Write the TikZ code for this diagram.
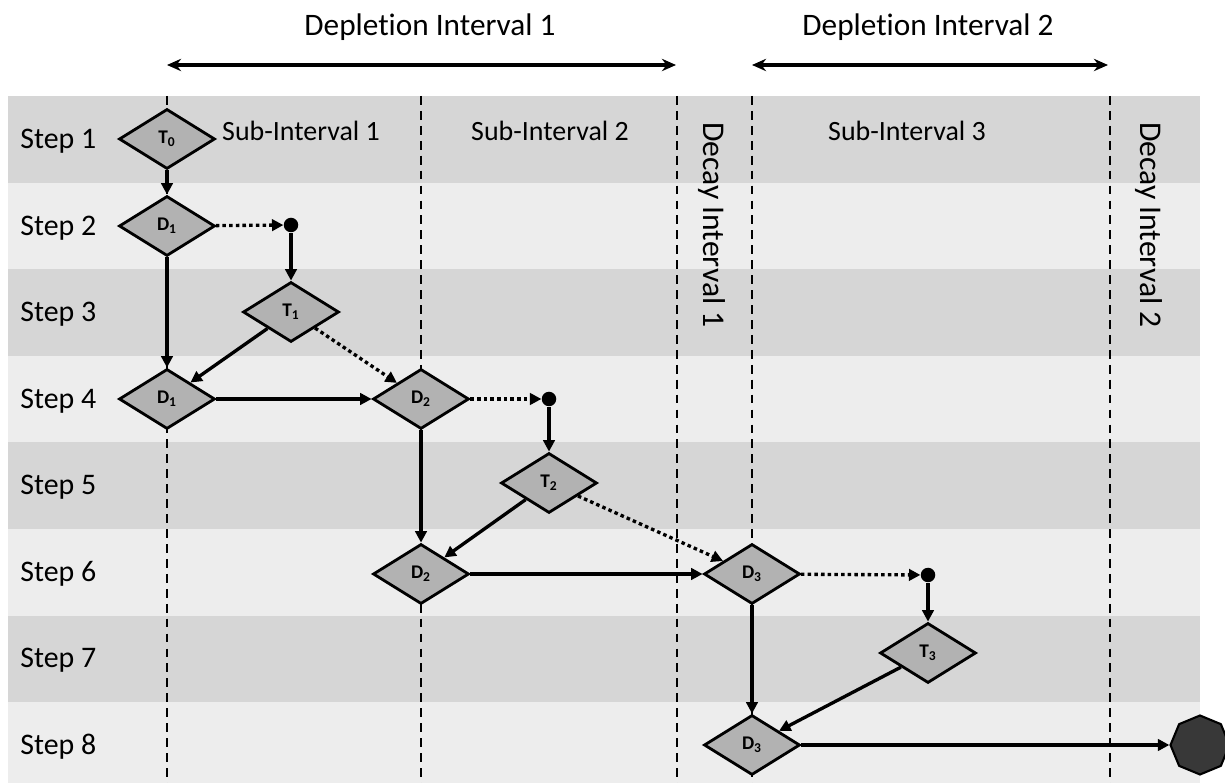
\documentclass[tikz,border=0pt]{standalone}
\usepackage{fontspec}
\setmainfont{Carlito}[Ligatures=NoCommon]
\usetikzlibrary{positioning, shapes.geometric, arrows.meta}

\begin{document}
\begin{tikzpicture}[
  x=0.02cm, y=-0.02cm,
  font=\fontsize{17}{20}\selectfont,
  darkrow/.style={fill=black!16},
  lightrow/.style={fill=black!7},
  steplbl/.style={anchor=west, inner sep=0pt},
  sublbl/.style={font=\fontsize{15.9}{19}\selectfont},
  decaylbl/.style={rotate=-90, font=\fontsize{18}{21}\selectfont},
  deplbl/.style={font=\fontsize{17.8}{21}\selectfont},
  border/.style={line width=1.2pt, dash pattern=on 5pt off 3.5pt},
  dia/.style={draw, diamond, line width=1.6pt, fill=black!30,
              minimum width=1.92cm, minimum height=1.2cm, inner sep=0pt,
              font=\fontsize{11}{13}\selectfont\bfseries},
  pt/.style={circle, fill=black, minimum size=0.29cm, inner sep=0pt},
  stopsign/.style={draw, regular polygon, regular polygon sides=8,
                   shape border rotate=22.5, fill=black!78, line width=1.2pt,
                   minimum size=1.18cm, inner sep=0pt},
  link/.style={-{Triangle[length=6.5pt,width=6.5pt]}, line width=1.9pt},
  trig/.style={-{Triangle[length=6.5pt,width=6.5pt]}, line width=1.9pt,
               dash pattern=on 2pt off 1.8pt},
  span/.style={{Stealth[length=8pt,width=7pt]}-{Stealth[length=8pt,width=7pt]},
               line width=1.9pt},
]

\useasboundingbox (0,0) rectangle (1225,783);

% step rows
\fill[darkrow]  (8,96)    rectangle (1200,182.6);
\fill[lightrow] (8,182.6) rectangle (1200,269.2);
\fill[darkrow]  (8,269.2) rectangle (1200,355.8);
\fill[lightrow] (8,355.8) rectangle (1200,442.4);
\fill[darkrow]  (8,442.4) rectangle (1200,529);
\fill[lightrow] (8,529)   rectangle (1200,615.6);
\fill[darkrow]  (8,615.6) rectangle (1200,702.2);
\fill[lightrow] (8,702.2) rectangle (1200,783);

\node[steplbl] (s1) at (20,141) {Step 1};
\node[steplbl] (s2) at (20,228) {Step 2};
\node[steplbl] (s3) at (20,314) {Step 3};
\node[steplbl] (s4) at (20,401) {Step 4};
\node[steplbl] (s5) at (20,487) {Step 5};
\node[steplbl] (s6) at (20,574) {Step 6};
\node[steplbl] (s7) at (20,660) {Step 7};
\node[steplbl] (s8) at (20,747) {Step 8};

% interval borders
\draw[border] (167,96) -- (167,783);
\draw[border] (421,96) -- (421,783);
\draw[border] (677,96) -- (677,783);
\draw[border] (752,96) -- (752,783);
\draw[border] (1110,96) -- (1110,783);

\node[sublbl] (sub1) at (301,131) {Sub-Interval 1};
\node[sublbl] (sub2) at (550,131) {Sub-Interval 2};
\node[sublbl] (sub3) at (907,131) {Sub-Interval 3};

\node[decaylbl] (dec1) at (712,225) {Decay Interval 1};
\node[decaylbl] (dec2) at (1149,225) {Decay Interval 2};

% depletion intervals
\coordinate (dep1l) at (167,65);
\coordinate (dep1r) at (676,65);
\coordinate (dep2l) at (752,65);
\coordinate (dep2r) at (1108,65);
\node[deplbl] (dep1) at (430,27) {Depletion Interval 1};
\node[deplbl] (dep2) at (928,27) {Depletion Interval 2};
\draw[span] (dep1l) -- (dep1r);
\draw[span] (dep2l) -- (dep2r);

% steps
\node[dia] (t0)  at (167,139) {T\textsubscript{0}};
\node[dia] (d1a) at (167,226) {D\textsubscript{1}};
\node[pt]  (p1)  at (291,225) {};
\node[dia] (t1)  at (291,312) {T\textsubscript{1}};
\node[dia] (d1b) at (167,399) {D\textsubscript{1}};
\node[dia] (d2a) at (421,399) {D\textsubscript{2}};
\node[pt]  (p2)  at (549,399) {};
\node[dia] (t2)  at (549,483) {T\textsubscript{2}};
\node[dia] (d2b) at (421,574) {D\textsubscript{2}};
\node[dia] (d3a) at (752,574) {D\textsubscript{3}};
\node[pt]  (p3)  at (928,575) {};
\node[dia] (t3)  at (928,653) {T\textsubscript{3}};
\node[dia] (d3b) at (752,745) {D\textsubscript{3}};
\node[stopsign] (stop) at (1200,745) {};

\draw[link] (t0) -- (d1a);
\draw[trig] (d1a) -- (p1);
\draw[link] (p1) -- (t1);
\draw[link] (d1a) -- (d1b);
\draw[link] (t1) -- (d1b);
\draw[trig] (t1) -- (d2a);
\draw[link] (d1b) -- (d2a);
\draw[trig] (d2a) -- (p2);
\draw[link] (p2) -- (t2);
\draw[link] (d2a) -- (d2b);
\draw[link] (t2) -- (d2b);
\draw[trig] (t2) -- (d3a);
\draw[link] (d2b) -- (d3a);
\draw[trig] (d3a) -- (p3);
\draw[link] (p3) -- (t3);
\draw[link] (d3a) -- (d3b);
\draw[link] (t3) -- (d3b);
\draw[link] (d3b) -- (stop);

\end{tikzpicture}
\end{document}
